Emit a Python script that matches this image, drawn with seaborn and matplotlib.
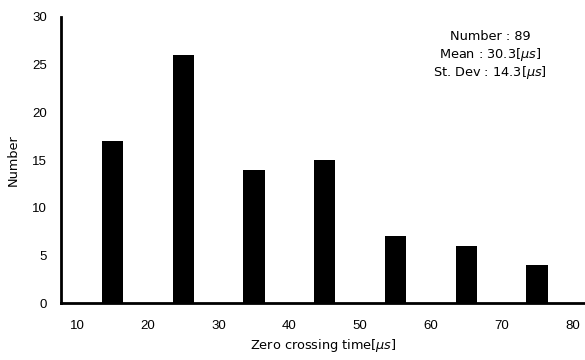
import matplotlib
matplotlib.use("Agg")
import matplotlib.pyplot as plt
import seaborn as sns
import pandas as pd

# Histogram of zero crossing times (bin centres in microseconds)
bin_centers = [15, 25, 35, 45, 55, 65, 75]
counts = [17, 26, 14, 15, 7, 6, 4]
x_ticks = [10, 20, 30, 40, 50, 60, 70, 80]
y_ticks = [0, 5, 10, 15, 20, 25, 30]
stats_lines = ["Number : 89",
               r"Mean : 30.3[$\mathit{\mu s}$]",
               r"St. Dev : 14.3[$\mathit{\mu s}$]"]

sns.set_theme(style="white")
plt.rcParams["font.family"] = ["Liberation Sans", "DejaVu Sans"]
plt.rcParams["mathtext.fontset"] = "custom"
plt.rcParams["mathtext.it"] = "DejaVu Sans:italic"
plt.rcParams["text.color"] = "black"
plt.rcParams["axes.labelcolor"] = "black"

df = pd.DataFrame({"time": bin_centers, "count": counts})

fig = plt.figure(figsize=(5.85, 3.6), dpi=100)
ax = fig.add_axes([0.1043, 0.1583, 0.8957, 0.7945])

sns.barplot(data=df, x="time", y="count", native_scale=True, width=0.3,
            color="black", edgecolor="none", saturation=1, ax=ax)

ax.set_xlim(7.7, 81.8)
ax.set_ylim(0, 30)
ax.set_xticks(x_ticks)
ax.set_yticks(y_ticks)

for side in ["top", "right"]:
    ax.spines[side].set_visible(False)
for side in ["left", "bottom"]:
    ax.spines[side].set_color("black")
    ax.spines[side].set_linewidth(2)

ax.tick_params(axis="y", direction="in", length=3, width=2, colors="black",
               labelsize=9.5, pad=10)
ax.tick_params(axis="x", length=0, labelsize=9.5, pad=12, colors="black")

label_font = dict(family=["DejaVu Sans"], size=9.3, color="black")
ax.set_xlabel(r"Zero crossing time[$\mathit{\mu s}$]", fontdict=label_font,
              labelpad=4)
ax.set_ylabel("Number", fontdict=label_font, labelpad=9)

# Summary statistics, one line each so spacing stays even
for line, ypos in zip(stats_lines, [0.920, 0.857, 0.793]):
    ax.text(0.819, ypos, line, transform=ax.transAxes,
            ha="center", va="baseline", **label_font)

fig.savefig("out.png", dpi=100)
